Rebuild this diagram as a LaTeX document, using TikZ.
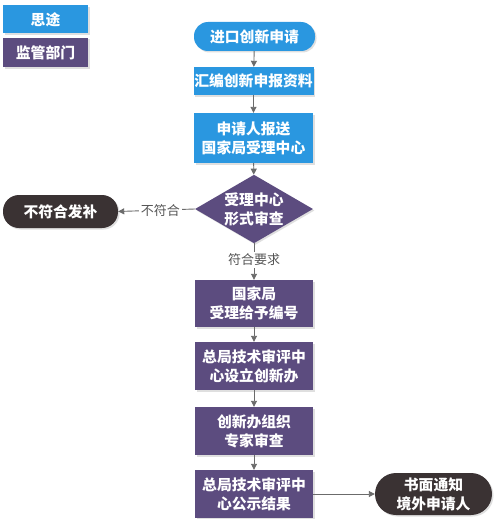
\documentclass[tikz,border=0pt]{standalone}
\usepackage{fontspec}
\setmainfont{Noto Sans CJK SC}
\usetikzlibrary{shapes.geometric,arrows.meta,shadows}
\definecolor{sblue}{HTML}{2A97E0}
\definecolor{spurple}{HTML}{5C4C7F}
\definecolor{sdark}{HTML}{3A3233}
\definecolor{sline}{HTML}{6B6B6B}
\definecolor{slabel}{HTML}{555555}
\tikzset{
  base/.style={draw=none, text=white, align=center, inner sep=0pt,
    font=\fontsize{14.8}{19}\selectfont\bfseries,
    drop shadow={shadow xshift=1.5pt, shadow yshift=-1.5pt, opacity=0.25}},
  bluebox/.style={base, fill=sblue, rectangle},
  purplebox/.style={base, fill=spurple, rectangle},
  blueterm/.style={base, fill=sblue, rectangle, rounded corners=14pt},
  darkterm/.style={base, fill=sdark, rectangle, rounded corners=16pt},
  dia/.style={base, fill=spurple, diamond, inner sep=-6pt},
  conn/.style={draw=sline, line width=0.9pt, -{Triangle[width=6pt,length=6pt]}},
  lbl/.style={fill=white, text=slabel, font=\fontsize{13}{15}\selectfont, inner sep=2pt}
}
\begin{document}
\begin{tikzpicture}[x=1pt,y=-1pt]
\useasboundingbox[fill=white] (0,0) rectangle (494,519);
% legend
\node[bluebox, minimum width=85pt, minimum height=28pt] (lg1) at (45.5,19.5) {思途};
\node[purplebox, minimum width=85pt, minimum height=29pt] (lg2) at (45.5,52.5) {监管部门};
% flow
\node[blueterm, minimum width=121pt, minimum height=29pt] (s1) at (254.5,36.5) {进口创新申请};
\node[bluebox, minimum width=120pt, minimum height=28pt] (s2) at (253.5,81) {汇编创新申报资料};
\node[bluebox, minimum width=119pt, minimum height=50pt] (s3) at (253.5,138) {申请人报送\\国家局受理中心};
\node[dia, minimum width=118pt, minimum height=58pt] (d) at (254,209) {受理中心\\形式审查};
\node[darkterm, minimum width=115pt, minimum height=33pt] (no) at (60.5,211.5) {不符合发补};
\node[purplebox, minimum width=118pt, minimum height=47pt] (p1) at (254,303.5) {国家局\\受理给予编号};
\node[purplebox, minimum width=118pt, minimum height=48pt] (p2) at (254,366) {总局技术审评中\\心设立创新办};
\node[purplebox, minimum width=118pt, minimum height=48pt] (p3) at (254,431) {创新办组织\\专家审查};
\node[purplebox, minimum width=118pt, minimum height=48pt] (p4) at (254,494) {总局技术审评中\\心公示结果};
\node[darkterm, minimum width=117pt, minimum height=42pt, rounded corners=21pt] (fin) at (433.5,494) {书面通知\\境外申请人};
% connectors
\draw[conn] (s1) -- (s2);
\draw[conn] (s2) -- (s3);
\draw[conn] (s3) -- (d);
\draw[conn] (d.west) -- node[lbl, pos=0.45] {不符合} (no.east);
\draw[conn] (d.south) -- node[lbl, pos=0.45] {符合要求} (p1.north);
\draw[conn] (p1) -- (p2);
\draw[conn] (p2) -- (p3);
\draw[conn] (p3) -- (p4);
\draw[conn] (p4.east) -- (fin.west);
\end{tikzpicture}
\end{document}
